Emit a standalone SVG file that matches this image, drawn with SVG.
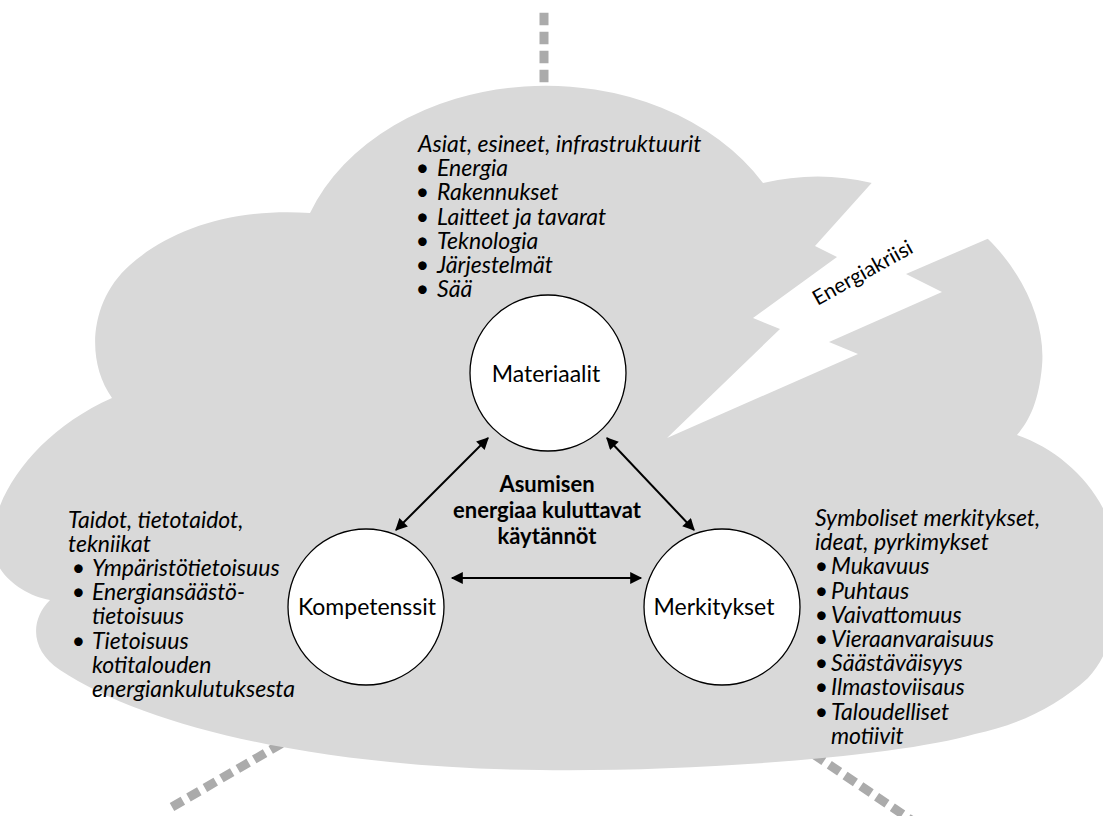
<svg xmlns="http://www.w3.org/2000/svg" width="1103" height="816" viewBox="0 0 1103 816">
<style>
.blk{font-family:Lato,"Liberation Sans",sans-serif;font-style:italic;font-size:23px;fill:#000}
.lbl{font-family:Lato,"Liberation Sans",sans-serif;font-size:23px;fill:#000;text-anchor:middle}
.ctr{font-family:Lato,"Liberation Sans",sans-serif;font-size:22px;font-weight:bold;fill:#000;text-anchor:middle}
.bul{font-style:normal;text-anchor:end}
.itm{text-anchor:start}
.dash{stroke:#ababab;stroke-width:9;fill:none;stroke-dasharray:12.5 6.5}
.node{fill:#fff;stroke:#000;stroke-width:1.3}
.arr{stroke:#000;stroke-width:2;fill:none;marker-start:url(#ah);marker-end:url(#ah)}
</style>
<defs>
<marker id="ah" viewBox="0 0 10 10" refX="9" refY="5" markerUnits="userSpaceOnUse" markerWidth="15" markerHeight="12" orient="auto-start-reverse">
<path d="M0,0 L10,5 L0,10 z" fill="#000"/>
</marker>
</defs>
<g id="rays">
<line class="dash" x1="544" y1="12.7" x2="544" y2="110"/>
<line class="dash" x1="172" y1="807" x2="300" y2="733"/>
<line class="dash" x1="782" y1="733" x2="935" y2="836"/>
</g>
<path id="cloud" fill="#d9d9d9" d="M 310,213 A 252,197 0 0 1 763,183 Q 818,170 872,183 L 940,200 L 988,239 C 1022,272 1046,322 1042,366 C 1039,400 1030,420 1017,435 C 1060,450 1098,485 1112,530 C 1125,590 1118,645 1088,678 C 1055,708 1015,726 975,734 C 900,756 700,772 540,770 C 330,768 150,730 60,670 C 30,650 30,620 50,600 C 20,595 -10,570 -8,540 C -5,490 40,430 112,398 C 85,360 90,300 130,265 C 170,230 230,208 310,213 Z"/>
<g id="bolt">
<polygon fill="#fff" points="930,118 815,246 837,257 753,318 780,329 667,438 858,354 829,342 942,292 906,274 1103,189 1103,118"/>
<text class="lbl" style="font-size:21px" x="866" y="279" transform="rotate(-29 866 279)">Energiakriisi</text>
</g>
<g id="connectors">
<line class="arr" x1="488" y1="438" x2="396" y2="530"/>
<line class="arr" x1="607" y1="438" x2="694" y2="530"/>
<line class="arr" x1="452" y1="578" x2="641" y2="578"/>
</g>
<g id="materiaalit">
<circle class="node" cx="548" cy="373" r="78"/>
<text class="lbl" x="546" y="382">Materiaalit</text>
</g>
<g id="kompetenssit">
<circle class="node" cx="366" cy="607" r="78"/>
<text class="lbl" x="367" y="615">Kompetenssit</text>
</g>
<g id="merkitykset">
<circle class="node" cx="722" cy="607" r="78"/>
<text class="lbl" x="714" y="615">Merkitykset</text>
</g>
<g id="center">
<text class="ctr" x="547" y="492">Asumisen</text>
<text class="ctr" x="547" y="518">energiaa kuluttavat</text>
<text class="ctr" x="547" y="544">käytännöt</text>
</g>
<g id="materiaalit-list">
<text class="blk"><tspan x="418" y="152">Asiat, esineet, infrastruktuurit</tspan><tspan class="bul" x="429" y="176.2">•</tspan><tspan class="itm" x="437">Energia</tspan><tspan class="bul" x="429" y="200.4">•</tspan><tspan class="itm" x="437">Rakennukset</tspan><tspan class="bul" x="429" y="224.6">•</tspan><tspan class="itm" x="437">Laitteet ja tavarat</tspan><tspan class="bul" x="429" y="248.8">•</tspan><tspan class="itm" x="437">Teknologia</tspan><tspan class="bul" x="429" y="273">•</tspan><tspan class="itm" x="437">Järjestelmät</tspan><tspan class="bul" x="429" y="297.2">•</tspan><tspan class="itm" x="437">Sää</tspan></text>
</g>
<g id="kompetenssit-list">
<text class="blk"><tspan x="68" y="528">Taidot, tietotaidot,</tspan><tspan x="68" y="552.1">tekniikat</tspan><tspan class="bul" x="85" y="576.2">•</tspan><tspan class="itm" x="92">Ympäristötietoisuus</tspan><tspan class="bul" x="85" y="600.3">•</tspan><tspan class="itm" x="92">Energiansäästö-</tspan><tspan x="92" y="624.4">tietoisuus</tspan><tspan class="bul" x="85" y="648.5">•</tspan><tspan class="itm" x="92">Tietoisuus</tspan><tspan x="92" y="672.6">kotitalouden</tspan><tspan x="92" y="696.7">energiankulutuksesta</tspan></text>
</g>
<g id="merkitykset-list">
<text class="blk"><tspan x="815" y="526">Symboliset merkitykset,</tspan><tspan x="815" y="550.2">ideat, pyrkimykset</tspan><tspan class="bul" x="828" y="574.4">•</tspan><tspan class="itm" x="831">Mukavuus</tspan><tspan class="bul" x="828" y="598.6">•</tspan><tspan class="itm" x="831">Puhtaus</tspan><tspan class="bul" x="828" y="622.8">•</tspan><tspan class="itm" x="831">Vaivattomuus</tspan><tspan class="bul" x="828" y="647">•</tspan><tspan class="itm" x="831">Vieraanvaraisuus</tspan><tspan class="bul" x="828" y="671.2">•</tspan><tspan class="itm" x="831">Säästäväisyys</tspan><tspan class="bul" x="828" y="695.4">•</tspan><tspan class="itm" x="831">Ilmastoviisaus</tspan><tspan class="bul" x="828" y="719.6">•</tspan><tspan class="itm" x="831">Taloudelliset</tspan><tspan x="831" y="743.8">motiivit</tspan></text>
</g>
</svg>
